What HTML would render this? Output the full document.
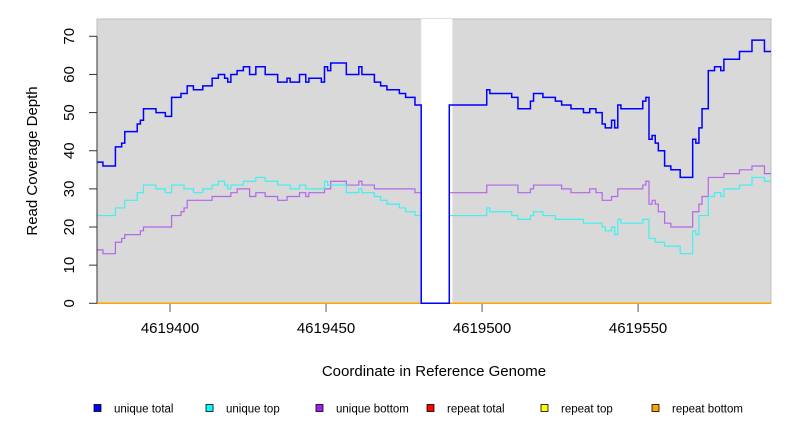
<!DOCTYPE html>
<html><head><meta charset="utf-8"><style>
html,body{margin:0;padding:0;background:#fff;}
svg{display:block;font-family:"Liberation Sans",sans-serif;}
</style></head><body>
<svg id="chart" width="792" height="432" viewBox="0 0 792 432" xmlns="http://www.w3.org/2000/svg">
<rect x="97" y="19" width="674" height="284" fill="#d9d9d9" stroke="#bdbdbd" stroke-width="1"/>
<g id="gaps"></g>
<g id="series"></g>
<g id="axes"></g>
<text transform="translate(37,161) rotate(-90)" text-anchor="middle" font-size="15">Read Coverage Depth</text>
<text x="434" y="376" text-anchor="middle" font-size="15">Coordinate in Reference Genome</text>
<g id="legend"></g>
</svg>
<script>
const xTicks = [4619400, 4619450, 4619500, 4619550];
const yTicks = [0, 10, 20, 30, 40, 50, 60, 70];
const gapRange = [4619480.5, 4619490.5];
const totalStarts = [4619377,379,383,385,386,390,391,392,396,399,401,404,406,408,411,414,416,418,419,420,422,424,426,428,431,435,438,439,442,444,445,449,450,451,452,457,461,462,466,468,470,474,476,479,481,490,502,503,510,512,516,517,520,524,526,529,533,535,537,539,540,542,543,544,545,552,553,554,555,556,557,559,561,564,568,569,570,571,573,575,577,578,583,587,591];
const totalValues = [37,36,41,42,45,47,48,51,50,49,54,55,57,56,57,59,60,59,58,60,61,62,60,62,60,58,59,58,60,58,59,58,62,61,63,60,62,60,58,57,56,55,54,52,0,52,56,55,54,51,53,55,54,53,52,51,50,51,50,47,46,48,46,52,51,53,54,43,44,42,40,36,35,33,43,42,46,51,61,62,61,64,66,69,66];
const topStarts = [4619377,383,386,390,392,396,399,401,405,408,411,414,416,418,419,420,424,428,431,435,439,442,444,450,451,457,461,462,466,468,470,474,476,479,481,490,502,503,510,512,516,517,520,524,533,539,540,542,543,544,545,552,554,556,559,564,568,569,570,573,575,577,578,583,587,591];
const topValues = [23,25,27,29,31,30,29,31,30,29,30,31,32,31,30,31,32,33,32,31,30,31,30,32,31,29,30,29,28,27,26,25,24,23,0,23,25,24,23,22,23,24,23,22,21,20,19,20,18,22,21,22,17,16,15,13,19,18,23,28,29,28,30,31,33,32];
const bottomStarts = [4619377,379,383,385,386,391,392,401,404,405,406,414,420,422,426,428,431,435,438,442,444,445,450,452,457,461,462,466,479,481,490,502,512,516,517,526,529,535,537,539,542,544,552,553,554,555,556,557,559,561,568,570,571,573,578,583,587,591];
const bottomValues = [14,13,16,17,18,19,20,23,24,25,27,28,29,30,28,29,28,27,28,29,28,29,30,32,31,32,31,30,29,0,29,31,29,30,31,30,29,30,29,27,28,30,31,32,26,27,26,24,21,20,24,26,28,33,34,35,36,34];
const legendLabels = ["unique total","unique top","unique bottom","repeat total","repeat top","repeat bottom"];
const legendColors = ["#0000ff","#00ffff","#a020f0","#ff0000","#ffff00","#ffa500"];

const NS = "http://www.w3.org/2000/svg";
const X0 = 4619376.6, X1 = 4619592.6, PX0 = 97, PX1 = 771;
const PY0 = 303.3, PY70 = 36.3;
function fix(v){ return v < 4619000 ? v + 4619000 : v; }
function sx(v){ return PX0 + (fix(v) - X0) / (X1 - X0) * (PX1 - PX0); }
function sy(v){ return PY0 - v / 70 * (PY0 - PY70); }
function mk(tag, attrs, parent){ const e = document.createElementNS(NS, tag); for (const k in attrs) e.setAttribute(k, attrs[k]); parent.appendChild(e); return e; }

const gaps = document.getElementById('gaps');
const gapRect = mk('rect', {x: sx(gapRange[0]), y: 19, width: sx(gapRange[1]) - sx(gapRange[0]), height: 284.3, fill: '#ffffff'}, gaps);



function stepPath(starts, values){
  let d = '';
  for (let i = 0; i < starts.length; i++) {
    const a = Math.max(sx(fix(starts[i]) - 0.5), PX0);
    const b = i + 1 < starts.length ? sx(fix(starts[i+1]) - 0.5) : PX1;
    const y = sy(values[i]);
    d += (i === 0 ? 'M' : 'L') + a.toFixed(2) + ',' + y.toFixed(2) + 'L' + b.toFixed(2) + ',' + y.toFixed(2);
  }
  return d;
}
const series = document.getElementById('series');
const zl = mk('line', {x1: PX0, x2: PX1, y1: sy(0), y2: sy(0), stroke: '#ffa500', 'stroke-width': 1.5}, series);


const pb = mk('path', {d: stepPath(bottomStarts, bottomValues), fill: 'none', stroke: '#b266e8', 'stroke-width': 1.2}, series);


const pt = mk('path', {d: stepPath(topStarts, topValues), fill: 'none', stroke: '#3ef0f0', 'stroke-width': 1.2}, series);


const ptot = mk('path', {d: stepPath(totalStarts, totalValues), fill: 'none', stroke: '#0000ff', 'stroke-width': 1.5}, series);



const axes = document.getElementById('axes');
const yl = mk('line', {x1: 97, x2: 97, y1: sy(0), y2: sy(70), stroke: '#333', 'stroke-width': 1}, axes);


yTicks.forEach(t => {
  const l = mk('line', {x1: 89, x2: 97, y1: sy(t), y2: sy(t), stroke: '#333'}, axes);
  
  
  const tx = mk('text', {transform: 'translate(74,' + sy(t) + ') rotate(-90)', 'text-anchor': 'middle', 'font-size': 15}, axes);
  tx.textContent = t;
  
  
});
xTicks.forEach(t => {
  const l = mk('line', {x1: sx(t), x2: sx(t), y1: 304, y2: 312, stroke: '#555'}, axes);
  
  
  const tx = mk('text', {x: sx(t), y: 333, 'text-anchor': 'middle', 'font-size': 15}, axes);
  tx.textContent = t;
  
  
});

const legend = document.getElementById('legend');
const legSq = [94, 206, 316, 427, 541, 652];
legendLabels.forEach((lab, i) => {
  const r = mk('rect', {x: legSq[i], y: 404.5, width: 7, height: 7, fill: legendColors[i], stroke: '#000', 'stroke-width': 0.8}, legend);
  
  
  const t = mk('text', {x: legSq[i] + 20, y: 412.5, 'font-size': 11.5}, legend);
  t.textContent = lab;
  
  
});
</script>
</body></html>
